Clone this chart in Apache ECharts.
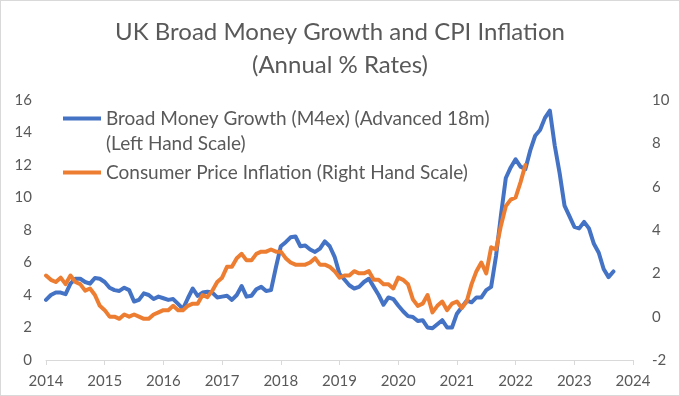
<!DOCTYPE html>
<html>
<head>
<meta charset="utf-8">
<script src="https://cdn.jsdelivr.net/npm/echarts@6/dist/echarts.min.js"></script>
<style>
  html, body { margin: 0; padding: 0; background: #fff; }
  #chart { width: 678px; height: 394px; border: 1px solid #d9d9d9; }
</style>
</head>
<body>
<div id="chart"></div>
<script>
// monthly series, starting Jan 2014
const startYear = 2014;
const yearTicks = ['2014', '2015', '2016', '2017', '2018', '2019', '2020', '2021', '2022', '2023', '2024'];

// Broad money growth (M4ex), advanced 18 months, % y/y, left scale (Jan 2014 - Sep 2023)
const broadMoney = [
  3.7, 4.0, 4.15, 4.15, 4.05, 4.7, 5.0, 5.0, 4.8, 4.7, 5.05, 5.0,
  4.8, 4.45, 4.3, 4.25, 4.45, 4.3, 3.6, 3.7, 4.1, 4.0, 3.75, 3.9,
  3.8, 3.7, 3.75, 3.45, 3.15, 3.8, 4.4, 3.95, 4.15, 4.2, 4.15, 3.85,
  3.9, 3.95, 3.7, 4.0, 4.55, 3.9, 3.95, 4.35, 4.5, 4.25, 4.3, 5.7,
  7.0, 7.25, 7.55, 7.6, 7.0, 7.05, 6.8, 6.65, 6.85, 7.3, 7.0, 6.35,
  5.3, 4.95, 4.6, 4.4, 4.5, 4.8, 5.0, 4.5, 4.0, 3.4, 3.85, 3.75,
  3.35, 3.0, 2.7, 2.65, 2.4, 2.45, 2.0, 1.95, 2.2, 2.45, 2.0, 2.0,
  2.85, 3.25, 3.65, 3.55, 3.85, 3.85, 4.3, 4.5, 6.4, 8.9, 11.2, 11.85,
  12.35, 11.9, 11.75, 12.9, 13.8, 14.15, 14.9, 15.35, 13.2, 11.5, 9.5, 8.85,
  8.2, 8.1, 8.5, 8.1, 7.15, 6.6, 5.6, 5.1, 5.45
];

// CPI inflation, % y/y, right scale (Jan 2014 - Mar 2022)
const cpi = [
  1.9, 1.7, 1.6, 1.8, 1.5, 1.9, 1.6, 1.5, 1.2, 1.3, 1.0, 0.5,
  0.3, 0.0, 0.0, -0.1, 0.1, 0.0, 0.1, 0.0, -0.1, -0.1, 0.1, 0.2,
  0.3, 0.3, 0.5, 0.3, 0.3, 0.5, 0.6, 0.6, 1.0, 0.9, 1.2, 1.6,
  1.8, 2.3, 2.3, 2.7, 2.9, 2.6, 2.6, 2.9, 3.0, 3.0, 3.1, 3.0,
  3.0, 2.7, 2.5, 2.4, 2.4, 2.4, 2.5, 2.7, 2.4, 2.4, 2.3, 2.1,
  1.8, 1.9, 1.9, 2.1, 2.0, 2.0, 2.1, 1.7, 1.7, 1.5, 1.5, 1.3,
  1.8, 1.7, 1.5, 0.8, 0.5, 0.6, 1.0, 0.2, 0.5, 0.7, 0.3, 0.6,
  0.7, 0.4, 0.7, 1.5, 2.1, 2.5, 2.0, 3.2, 3.1, 4.2, 5.1, 5.4,
  5.5, 6.2, 7.0
];

// leading blank line keeps the legend line level with the first text line
const moneyName = '\nBroad Money Growth (M4ex) (Advanced 18m)\n(Left Hand Scale)';
const cpiName = 'Consumer Price Inflation (Right Hand Scale)';

const toPoints = arr => arr.map((v, i) => [startYear + i / 12, v]);

const FONT = 'Lato';
const GREY = '#595959';

const chart = echarts.init(document.getElementById('chart'));

chart.setOption({
  backgroundColor: '#fff',
  animation: false,
  textStyle: { fontFamily: FONT },
  title: {
    text: 'UK Broad Money Growth and CPI Inflation\n(Annual % Rates)',
    left: 'center',
    top: 10,
    textStyle: {
      fontFamily: FONT,
      fontSize: 24,
      fontWeight: 'normal',
      color: GREY,
      lineHeight: 33
    }
  },
  legend: {
    orient: 'vertical',
    left: 57,
    top: 75,
    itemWidth: 38,
    itemHeight: 4,
    itemGap: 4,
    icon: 'rect',
    textStyle: { fontFamily: FONT, fontSize: 19, color: GREY, lineHeight: 25 },
    data: [moneyName, cpiName]
  },
  grid: { left: 45, right: 46, top: 99, bottom: 35 },
  xAxis: {
    type: 'value',
    min: 2014,
    max: 2024,
    interval: 1,
    axisLine: { lineStyle: { color: '#d9d9d9', width: 1 } },
    axisTick: { show: true, length: 5, lineStyle: { color: '#d9d9d9' } },
    axisLabel: {
      color: GREY,
      fontSize: 15,
      margin: 14,
      formatter: v => yearTicks[Math.round(v - 2014)]
    },
    splitLine: { show: false }
  },
  yAxis: [
    {
      type: 'value',
      min: 0,
      max: 16,
      interval: 2,
      axisLine: { show: false },
      axisTick: { show: false },
      axisLabel: { color: GREY, fontSize: 15, margin: 14 },
      splitLine: { show: false }
    },
    {
      type: 'value',
      min: -2,
      max: 10,
      interval: 2,
      position: 'right',
      axisLine: { show: false },
      axisTick: { show: false },
      axisLabel: { color: GREY, fontSize: 15, margin: 19 },
      splitLine: { show: false }
    }
  ],
  series: [
    {
      name: moneyName,
      type: 'line',
      yAxisIndex: 0,
      data: toPoints(broadMoney),
      showSymbol: false,
      symbol: 'none',
      lineStyle: { color: '#4472C4', width: 4, join: 'round', cap: 'round' },
      itemStyle: { color: '#4472C4' },
      z: 2
    },
    {
      name: cpiName,
      type: 'line',
      yAxisIndex: 1,
      data: toPoints(cpi),
      showSymbol: false,
      symbol: 'none',
      lineStyle: { color: '#ED7D31', width: 4, join: 'round', cap: 'round' },
      itemStyle: { color: '#ED7D31' },
      z: 3
    }
  ]
});

window.addEventListener('resize', () => chart.resize());
</script>
</body>
</html>
